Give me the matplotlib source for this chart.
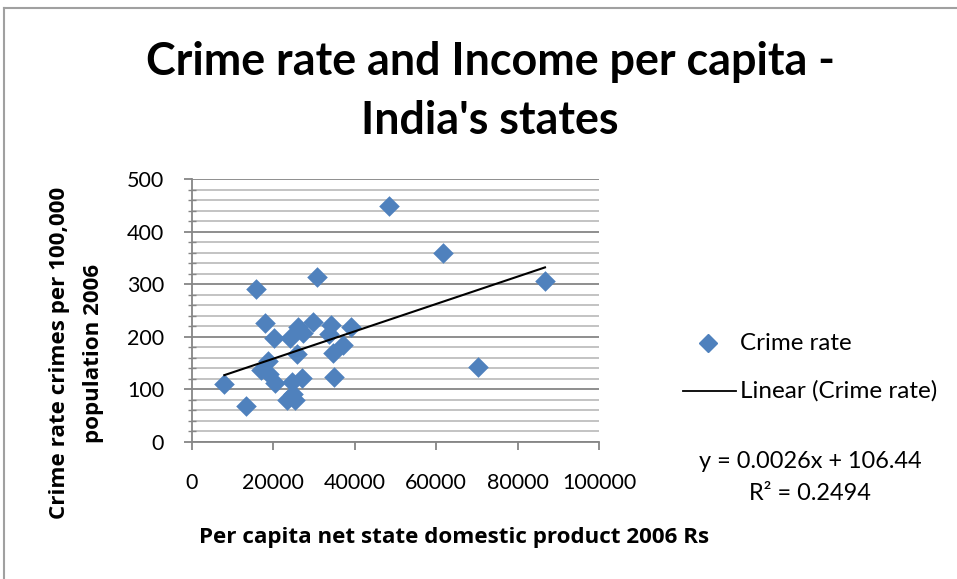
import matplotlib
matplotlib.use("Agg")
import matplotlib.pyplot as plt
from matplotlib.lines import Line2D
from matplotlib.ticker import MultipleLocator
import numpy as np

# Per capita net state domestic product (Rs, 2006) and crimes per 100,000 people
income = [7940, 13270, 15725, 16950, 17936, 18750, 18990, 20150, 20390, 23420,
          24080, 24490, 24890, 25310, 25720, 26120, 26950, 27350, 29650, 30640,
          33660, 34150, 34720, 34890, 37180, 38990, 48480, 61750, 70200, 86730]
crime_rate = [111, 69, 290, 136, 227, 154, 130, 197, 113, 79,
              197, 114, 91, 79, 168, 219, 122, 208, 228, 314,
              206, 223, 169, 124, 184, 219, 449, 359, 143, 306]

# Linear trendline coefficients
slope = 0.0026
intercept = 106.44
r_squared = 0.2494

x_ticks = [0, 20000, 40000, 60000, 80000, 100000]
y_ticks = [0, 100, 200, 300, 400, 500]

plt.rcParams['font.family'] = ['Lato', 'DejaVu Sans']
label_font = ['Open Sans', 'DejaVu Sans']

W, H = 957, 579
fig = plt.figure(figsize=(W / 100, H / 100), dpi=100)
fig.patch.set_facecolor('white')

# axes box in pixels: left 192, right 599, top 179, bottom 442
ax = fig.add_axes([192 / W, 1 - 442 / H, (599 - 192) / W, (442 - 179) / H])
ax.set_facecolor('white')

blue = '#4F81BD'
major_grey = '#868686'
minor_grey = '#BEBEBE'

ax.set_xlim(0, 100000)
ax.set_ylim(0, 500)
ax.set_xticks(x_ticks)
ax.set_yticks(y_ticks)
ax.set_xticklabels([str(v) for v in x_ticks])
ax.set_yticklabels([str(v) for v in y_ticks])
ax.yaxis.set_minor_locator(MultipleLocator(20))

ax.grid(axis='y', which='major', color=major_grey, linewidth=1.3, zorder=0)
ax.grid(axis='y', which='minor', color=minor_grey, linewidth=1.3, zorder=0)
ax.set_axisbelow(True)

for side in ('top', 'right'):
    ax.spines[side].set_visible(False)
for side in ('left', 'bottom'):
    ax.spines[side].set_color(major_grey)
    ax.spines[side].set_linewidth(1.3)

ax.tick_params(axis='x', which='major', direction='out', length=6, width=1.3,
               color=major_grey, labelsize=15.5, pad=16, labelcolor='black')
ax.tick_params(axis='y', which='major', direction='out', length=6, width=1.3,
               color=major_grey, labelsize=15.5, pad=14, labelcolor='black')
ax.tick_params(axis='y', which='minor', direction='inout', length=6, width=1.0,
               color=major_grey)

# scatter
ax.scatter(income, crime_rate, marker='D', s=110, color=blue, zorder=3,
           linewidths=0, clip_on=False)

# trendline over the data range
xs = np.array([min(income), max(income)])
ax.plot(xs, slope * xs + intercept, color='black', linewidth=1.5, zorder=4)

# title
fig.text(490 / W, 1 - 62 / H, 'Crime rate and Income per capita -',
         ha='center', va='center', fontsize=32.3, fontweight='bold')
fig.text(490 / W, 1 - 121 / H, "India's states",
         ha='center', va='center', fontsize=32.3, fontweight='bold')

# axis titles
fig.text(454 / W, 1 - 537 / H, 'Per capita net state domestic product 2006 Rs',
         ha='center', va='center', fontsize=16.1, fontweight='bold',
         family=label_font)
fig.text(60 / W, 1 - 353 / H, 'Crime rate crimes per 100,000',
         ha='center', va='center', fontsize=16.1, fontweight='bold',
         rotation=90, family=label_font)
fig.text(94 / W, 1 - 353 / H, 'population 2006',
         ha='center', va='center', fontsize=16.1, fontweight='bold',
         rotation=90, family=label_font)

# legend
fig.add_artist(Line2D([708 / W], [1 - 343 / H], marker='D', markersize=9.5,
                      color=blue, linestyle='none', transform=fig.transFigure))
fig.text(740 / W, 1 - 343 / H, 'Crime rate', ha='left', va='center', fontsize=17.4)
fig.add_artist(Line2D([683 / W, 736 / W], [1 - 391 / H, 1 - 391 / H],
                      color='black', linewidth=1.3, transform=fig.transFigure))
fig.text(740 / W, 1 - 391 / H, 'Linear (Crime rate)', ha='left', va='center',
         fontsize=17.5)

# trendline equation
fig.text(810 / W, 1 - 462 / H, f'y = {slope}x + {intercept}', ha='center',
         va='center', fontsize=16.9)
fig.text(810 / W, 1 - 494 / H, f'R² = {r_squared}', ha='center', va='center',
         fontsize=16.9)

# chart frame (top and left edges)
fig.add_artist(Line2D([4 / W, 1], [1 - 8 / H, 1 - 8 / H], color='#A0A0A0',
                      linewidth=1.5, transform=fig.transFigure))
fig.add_artist(Line2D([4 / W, 4 / W], [0, 1 - 8 / H], color='#A0A0A0',
                      linewidth=1.5, transform=fig.transFigure))

fig.savefig('out.png', dpi=100, facecolor='white')
